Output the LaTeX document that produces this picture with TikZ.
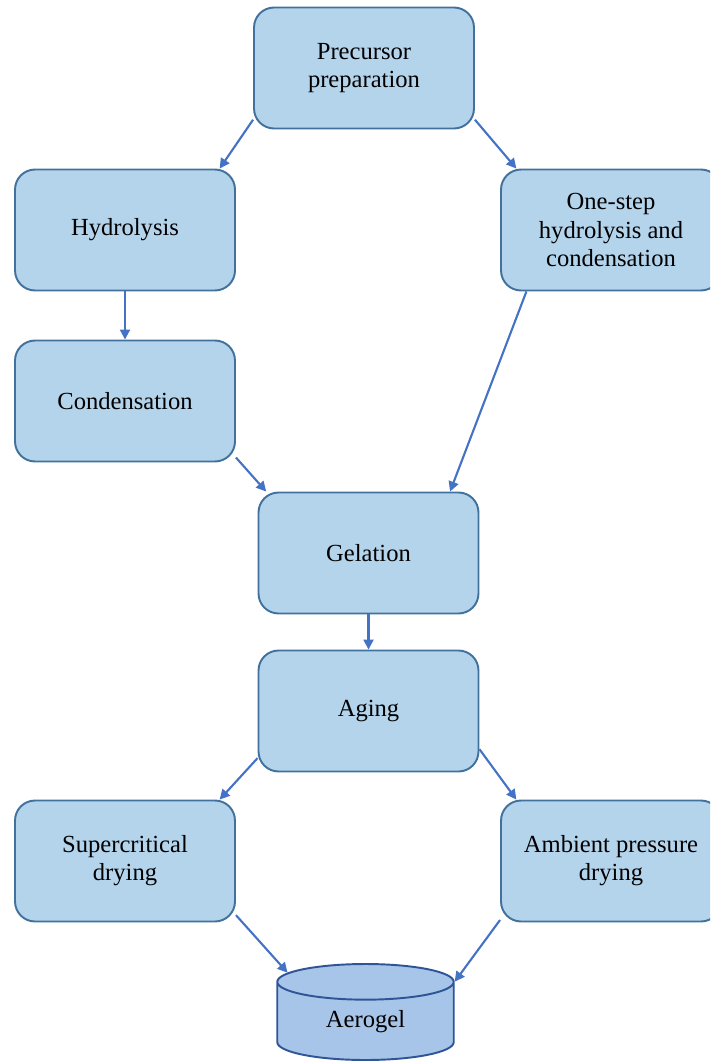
\documentclass[tikz,border=0pt]{standalone}
\usepackage{fontspec}
\setmainfont{Liberation Serif}
\usetikzlibrary{shapes.geometric, arrows.meta}

\definecolor{boxfill}{RGB}{180,212,236}
\definecolor{boxline}{RGB}{65,113,156}
\definecolor{arrowblue}{RGB}{68,114,196}
\definecolor{drumfill}{RGB}{166,197,232}
\definecolor{drumline}{RGB}{47,85,151}

\tikzset{
  stage/.style={draw=boxline, fill=boxfill, line width=1.1pt, rounded corners=0.4cm,
    minimum width=4.4cm, minimum height=2.42cm, align=center, inner sep=2pt,
    font=\fontsize{14}{16}\selectfont},
  flow/.style={draw=arrowblue, line width=1.2pt, -{Triangle[length=0.2cm,width=0.2cm]}},
}

\begin{document}
\begin{tikzpicture}[x=0.02cm, y=-0.02cm]
      \useasboundingbox (0,0) rectangle (710,1061);
      \clip (0,0) rectangle (710,1061);

      \node [stage] (prec) at (364,68) {Precursor\\preparation};
      \node [stage] (hyd) at (125,230) {Hydrolysis};
      \node [stage] (one) at (611,230) {One-step\\hydrolysis and\\condensation};
      \node [stage] (cond) at (125,401) {Condensation};
      \node [stage] (gel) at (368.5,553) {Gelation};
      \node [stage] (aging) at (368.5,711) {Aging};
      \node [stage] (super) at (125,861) {Supercritical\\drying};
      \node [stage] (amb) at (611,861) {Ambient pressure\\drying};

      \node [shape=cylinder, shape border rotate=90, aspect=0.45, draw=drumline, fill=drumfill,
        line width=1.1pt, minimum width=3.53cm, minimum height=1.92cm, inner sep=0pt,
        anchor=shape center, font=\fontsize{14}{16}\selectfont] (aero) at (365.5,1012) {Aerogel};

      \draw [flow] (prec.205) -- (hyd.33);
      \draw [flow] (prec.-25) -- (one.147);
      \draw [flow] (hyd.south) -- (cond.north);
      \draw [flow] (cond.-27) -- (gel.149.5);
      \draw [flow] (one.216.4) -- (gel.37.4);
      \draw [flow] (gel.south) -- (aging.north);
      \draw [flow] (aging.203.4) -- (super.33.4);
      \draw [flow] (aging.-19.1) -- (amb.147.2);
      \draw [flow] (super.-26.1) -- (aero.148);
      \draw [flow] (amb.208) -- (aero.24);
\end{tikzpicture}
\end{document}
